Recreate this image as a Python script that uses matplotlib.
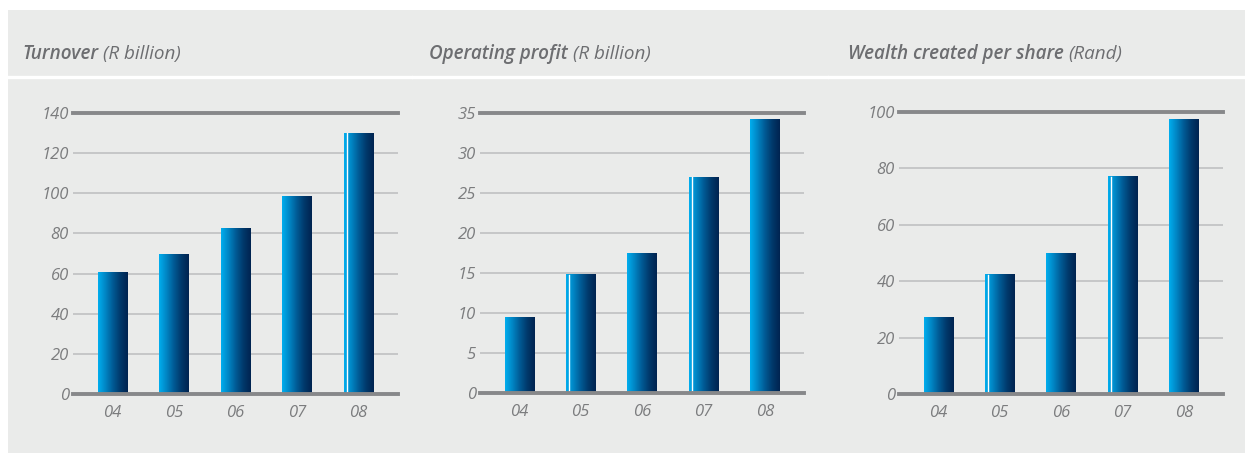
import numpy as np
import matplotlib
matplotlib.use("Agg")
import matplotlib.pyplot as plt
from matplotlib.colors import LinearSegmentedColormap
from matplotlib.patches import Rectangle
from matplotlib.lines import Line2D

# financial years
years = ["04", "05", "06", "07", "08"]

turnover = [60.3, 69.3, 82.7, 98.2, 130.0]
operating_profit = [9.5, 14.8, 17.5, 27.0, 34.2]
wealth_per_share = [27.3, 42.2, 50.0, 77.0, 97.5]

turnover_ticks = [0, 20, 40, 60, 80, 100, 120, 140]
profit_ticks = [0, 5, 10, 15, 20, 25, 30, 35]
wealth_ticks = [0, 20, 40, 60, 80, 100]

# bars that carry the thin white highlight stripe
turnover_stripe = [4]
profit_stripe = [1, 3]
wealth_stripe = [1, 3]

W, H = 1245, 453
BG = "#eaebea"
TXT = "#7b7c7e"
TITLE = "#6d6e71"
GRID = "#c6c7c8"
RULE = "#87888a"

bar_cmap = LinearSegmentedColormap.from_list(
    "bar", ["#00aeef", "#0085c4", "#005a94", "#00386a", "#002350"])

fig = plt.figure(figsize=(W / 100, H / 100), dpi=100)
fig.patch.set_facecolor("white")

# grey panel and white divider under the title band
fig.add_artist(Rectangle((8 / W, 0), 1 - 8 / W, (H - 10) / H,
                         transform=fig.transFigure, facecolor=BG,
                         edgecolor="none", zorder=-10))
for x0, x1 in [(8, 411), (413, 827), (829, 1245)]:
    fig.add_artist(Line2D([x0 / W, x1 / W], [(H - 76.5) / H] * 2,
                          transform=fig.transFigure, color="white", lw=2.4))


def panel(left, right, zero_y, top_y, values, ticks, stripe, title, unit, tx):
    ax = fig.add_axes([left / W, (H - zero_y) / H, (right - left) / W,
                       (zero_y - top_y) / H])
    ax.set_facecolor("none")
    ymax = ticks[-1]
    ax.set_xlim(-0.64, 4.64)
    ax.set_ylim(0, ymax)
    for t in ticks[1:-1]:
        ax.axhline(t, color=GRID, lw=1.4, zorder=1)
    ax.axhline(0, color=RULE, lw=2.8, zorder=4, clip_on=False)
    ax.axhline(ymax, color=RULE, lw=2.8, zorder=4, clip_on=False)

    grad = np.linspace(0, 1, 256).reshape(1, -1)
    bw = 0.48
    for i, v in enumerate(values):
        ax.imshow(grad, cmap=bar_cmap, aspect="auto", interpolation="bilinear",
                  extent=[i - bw / 2, i + bw / 2, 0, v], zorder=3)
        if i in stripe:
            ax.plot([i - bw / 2 + 0.05] * 2, [0, v], color="white",
                    lw=1.0, zorder=3.5)

    ax.set_xticks(range(len(years)))
    ax.set_xticklabels(years)
    ax.set_yticks(ticks)
    ax.set_yticklabels([str(t) for t in ticks])
    ax.tick_params(length=0, labelsize=12, labelcolor=TXT)
    ax.tick_params(axis="y", pad=3)
    ax.tick_params(axis="x", pad=8)
    for lab in ax.get_xticklabels() + ax.get_yticklabels():
        lab.set_fontstyle("italic")
        lab.set_fontfamily("Open Sans")
    for s in ax.spines.values():
        s.set_visible(False)

    t1 = fig.text(tx / W, (H - 59) / H, title, fontsize=13.6, color=TITLE,
                  fontstyle="italic", fontweight="semibold", family="Open Sans",
                  va="baseline")
    fig.canvas.draw()
    bb = t1.get_window_extent()
    fig.text(bb.x1 / W + 5 / W, (H - 59) / H, unit, fontsize=13.6, color=TITLE,
             fontstyle="italic", family="Open Sans", va="baseline")
    return ax


panel(73, 398, 394, 113, turnover, turnover_ticks, turnover_stripe,
      "Turnover", "(R billion)", 22)
panel(480, 804, 393, 113, operating_profit, profit_ticks, profit_stripe,
      "Operating profit", "(R billion)", 429)
panel(899, 1223, 394, 112, wealth_per_share, wealth_ticks, wealth_stripe,
      "Wealth created per share", "(Rand)", 848)

fig.savefig("out.png", dpi=100, facecolor=fig.get_facecolor())
